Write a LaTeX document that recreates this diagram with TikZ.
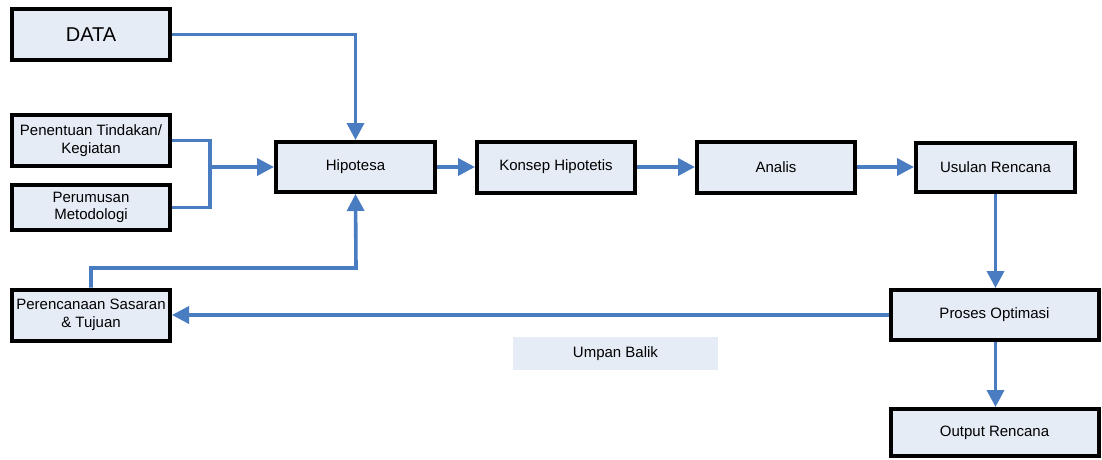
\documentclass[tikz,border=0pt]{standalone}
\usepackage{fontspec}
\setmainfont{Liberation Sans}
\usetikzlibrary{arrows.meta}
\definecolor{boxfill}{HTML}{E6ECF6}
\definecolor{linkblue}{HTML}{4A7CC2}
\begin{document}
\begin{tikzpicture}[x=1pt,y=-1pt,
  box/.style={draw=black, line width=4pt, fill=boxfill, rectangle, inner sep=2pt,
    font=\fontsize{15}{17.5}\selectfont, align=center},
  link/.style={draw=linkblue, line width=3.6pt},
  arr/.style={link, -{Triangle[length=17pt,width=17pt]}}]
\useasboundingbox (0,0) rectangle (1102,460);
\fill[white] (0,0) rectangle (1102,460);
\node[box, minimum width=158pt, minimum height=51pt, font=\fontsize{20}{23}\selectfont] (data) at (91,34.5) {DATA};
\node[box, minimum width=158pt, minimum height=51pt] (pen) at (91,140.5) {Penentuan Tindakan/\\Kegiatan};
\node[box, minimum width=158pt, minimum height=45pt] (per) at (91,207.5) {Perumusan\\Metodologi};
\node[box, minimum width=159pt, minimum height=50pt] (hip) at (355.5,167) {Hipotesa};
\node[box, minimum width=158pt, minimum height=51pt] (kon) at (556,167) {Konsep Hipotetis};
\node[box, minimum width=158pt, minimum height=51pt] (ana) at (776,167) {Analis};
\node[box, minimum width=159pt, minimum height=49pt] (usu) at (995.5,167) {Usulan Rencana};
\node[box, minimum width=208pt, minimum height=50pt] (pro) at (994.5,315) {Proses Optimasi};
\node[box, minimum width=208pt, minimum height=47pt] (out) at (994.5,432.5) {Output Rencana};
\node[box, minimum width=158pt, minimum height=51pt] (ren) at (91,315) {Perencanaan Sasaran\\\& Tujuan};
\node[fill=boxfill, minimum width=205pt, minimum height=33pt, inner sep=0pt,
  font=\fontsize{15}{17.5}\selectfont] (ump) at (615.5,353.5) {Umpan Balik};
\coordinate (j) at (210,167);
\draw[arr] (data.east) -| (hip.north);
\draw[link] (pen.east) -| (j);
\draw[link] (per.east) -| (j);
\draw[arr] (j) -- (hip.west);
\draw[arr] (ren.north) |- (356,268) -- (hip.south);
\draw[arr] (hip) -- (kon);
\draw[arr] (kon) -- (ana);
\draw[arr] (ana) -- (usu);
\draw[arr] (usu) -- (usu.south |- pro.north);
\draw[arr] (pro) -- (ren);
\draw[arr] (usu.south |- pro.south) -- (usu.south |- out.north);
\end{tikzpicture}
\end{document}
